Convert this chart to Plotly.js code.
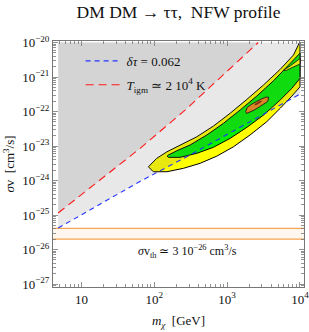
<!DOCTYPE html>
<html>
<head>
<meta charset="utf-8">
<script src="https://cdn.plot.ly/plotly-3.0.1.min.js"></script>
<style>html,body{margin:0;padding:0;background:#fff;}#chart{width:309px;height:332px;}</style>
</head>
<body>
<div id="chart"></div>
<script>
// ---- data (mass in GeV, sigma v in cm^3/s) ----
const massBlue  = [4.8, 13, 64, 310, 1660, 10000];
const sigmaBlue = [4.2e-26, 1.4e-25, 9.5e-25, 5.5e-24, 4.0e-23, 3.2e-22];
const massRed   = [4.8, 64, 265, 2670];
const sigmaRed  = [1.15e-25, 8.6e-24, 1.1e-22, 1.0e-20];
const regionTop = 1.0e-20;
const massEdge  = [4.8, 10000];

const yellowUpM = [83, 108, 149, 226, 384, 649, 1100, 1870, 3160, 5350, 8140, 9840, 10000];
const yellowUpS = [2.5e-24, 4.4e-24, 6.8e-24, 1.07e-23, 1.86e-23, 3.8e-23, 8.9e-23, 2.26e-22, 5.9e-22, 1.67e-21, 4.35e-21, 1e-20, 1e-20];
const yellowLoM = [97, 149, 251, 426, 722, 1220, 2070, 3510, 5350, 7740, 10000];
const yellowLoS = [1.8e-24, 1.8e-24, 2.26e-24, 3.16e-24, 5.1e-24, 9.5e-24, 2.1e-23, 5.1e-23, 1.24e-22, 2.8e-22, 5.2e-22];

const greenUpM = [150, 156, 204, 310, 526, 890, 1510, 2560, 4330, 6610, 9070, 10000];
const greenUpS = [5.1e-24, 5.5e-24, 7.3e-24, 1.07e-23, 2.09e-23, 4.55e-23, 1.11e-22, 2.82e-22, 7.8e-22, 1.91e-21, 3.9e-21, 4.9e-21];
const greenLoM = [156, 226, 384, 649, 1100, 1870, 3160, 5350, 7740, 10000];
const greenLoS = [4.7e-24, 4.7e-24, 6.15e-24, 9.2e-24, 1.67e-23, 3.5e-23, 7.9e-23, 2.16e-22, 4.7e-22, 9.2e-22];

const notchM = [5880, 7330, 10000, 10000, 7820, 6470, 5880];
const notchS = [1.55e-21, 2.09e-21, 3.44e-21, 2.38e-21, 1.89e-21, 1.55e-21, 1.55e-21];

const orangeM = [1800, 1880, 2140, 2500, 2930, 3430, 3720, 3600, 3220, 2750, 2350, 2010, 1850, 1800];
const orangeS = [1.0e-22, 1.3e-22, 1.6e-22, 1.95e-22, 2.3e-22, 2.62e-22, 2.6e-22, 1.95e-22, 1.65e-22, 1.35e-22, 1.1e-22, 9.3e-23, 8.8e-23, 1.0e-22];

const redM = [2400, 2550, 2750, 2950, 2850, 2650, 2480, 2400];
const redS = [1.6e-22, 1.75e-22, 1.92e-22, 2.02e-22, 1.85e-22, 1.70e-22, 1.57e-22, 1.6e-22];

const thermalLow = 2.0e-26, thermalHigh = 4.1e-26;
const bandMass = [3, 20000];

const xTickVals = [10, 100, 1000, 10000];
const xTickText = ['10', '10<sup>2</sup>', '10<sup>3</sup>', '10<sup>4</sup>'];
const yTickVals = [1e-27, 1e-26, 1e-25, 1e-24, 1e-23, 1e-22, 1e-21, 1e-20];
const yTickText = ['10<sup>−27</sup>', '10<sup>−26</sup>', '10<sup>−25</sup>', '10<sup>−24</sup>', '10<sup>−23</sup>', '10<sup>−22</sup>', '10<sup>−21</sup>', '10<sup>−20</sup>'];

function minorVals(lo, hi) {
  const v = [];
  for (let e = lo; e <= hi; e++) for (let d = 2; d <= 9; d++) v.push(d * Math.pow(10, e));
  return v;
}
function poly(upM, upS, loM, loS) {
  const x = upM.concat(loM.slice().reverse()); const y = upS.concat(loS.slice().reverse());
  x.push(upM[0]); y.push(upS[0]);
  return {x, y};
}

const SERIF = 'Liberation Serif, Times New Roman, serif';
const yel = poly(yellowUpM, yellowUpS, yellowLoM, yellowLoS);
const grn = poly(greenUpM, greenUpS, greenLoM, greenLoS);

const traces = [
  {x: [bandMass[0], bandMass[1], bandMass[1], bandMass[0], bandMass[0]],
   y: [thermalLow, thermalLow, thermalHigh, thermalHigh, thermalLow],
   mode: 'lines', fill: 'toself', fillcolor: 'rgba(255,170,90,0.10)',
   line: {color: '#f5a453', width: 1.3}, showlegend: false, hoverinfo: 'skip'},
  {x: yel.x, y: yel.y, mode: 'lines', fill: 'toself', fillcolor: '#ffff00',
   line: {color: '#000', width: 1}, showlegend: false},
  {x: grn.x, y: grn.y, mode: 'lines', fill: 'toself', fillcolor: '#00f000',
   line: {color: '#000', width: 1}, showlegend: false},
  {x: notchM, y: notchS, mode: 'lines', fill: 'toself', fillcolor: '#ffff00',
   line: {color: '#000', width: 0.8}, showlegend: false},
  {x: orangeM, y: orangeS, mode: 'lines', fill: 'toself', fillcolor: '#f08a1a',
   line: {color: '#000', width: 0.8}, showlegend: false},
  {x: redM, y: redS, mode: 'lines', fill: 'toself', fillcolor: '#ff2000',
   line: {color: '#000', width: 0.5}, showlegend: false},
  // light grey: everything above the blue line
  {x: massBlue.concat([massEdge[1], massEdge[0], massBlue[0]]),
   y: sigmaBlue.concat([regionTop, regionTop, sigmaBlue[0]]),
   mode: 'lines', fill: 'toself', fillcolor: 'rgba(100,100,100,0.15)',
   line: {width: 0}, showlegend: false, hoverinfo: 'skip'},
  // darker grey: above the red line
  {x: massRed.concat([massEdge[0], massRed[0]]),
   y: sigmaRed.concat([regionTop, sigmaRed[0]]),
   mode: 'lines', fill: 'toself', fillcolor: 'rgba(100,100,100,0.15)',
   line: {width: 0}, showlegend: false, hoverinfo: 'skip'},
  {x: massBlue, y: sigmaBlue, mode: 'lines', name: '<i>δτ</i> = 0.062', legendgroup: 'a',
   line: {color: '#2233ff', width: 1.1, dash: '5px,4px'}},
  {x: massRed, y: sigmaRed, mode: 'lines', name: '<i>T</i><sub>igm</sub> ≃ 2 10<sup>4</sup> K', legendgroup: 'b',
   line: {color: '#ff1a1a', width: 1.1, dash: '8px,5px'}}
];

const axisCommon = {
  type: 'log', showgrid: false, zeroline: false, showline: true, linecolor: '#777', linewidth: 1,
  mirror: 'allticks', ticks: 'inside', ticklen: 5, tickwidth: 0.8, tickcolor: '#777',
  tickfont: {family: SERIF, size: 13, color: '#111'}, tickmode: 'array', ticklabeloverflow: 'allow'
};

const layout = {
  width: 309, height: 332,
  margin: {l: 53, r: 5, t: 41, b: 45},
  paper_bgcolor: '#fff', plot_bgcolor: '#fff',
  title: {text: 'DM DM → ττ,\u00a0\u00a0NFW profile', font: {family: SERIF, size: 17.5, color: '#111'},
          x: 0.5, xref: 'paper', y: 0.964, yref: 'container', yanchor: 'middle'},
  xaxis: Object.assign({}, axisCommon, {
    range: [0.61, 4.055], tickvals: xTickVals, ticktext: xTickText,
    minor: {tickvals: minorVals(0, 3), ticks: 'inside', ticklen: 3, tickcolor: '#777', tickwidth: 0.8},
    title: {text: '<i>m</i><sub><i>χ</i></sub>\u00a0\u00a0[GeV]', font: {family: SERIF, size: 13, color: '#111'}, standoff: 10}
  }),
  yaxis: Object.assign({}, axisCommon, {
    range: [-27.085, -19.956], tickvals: yTickVals, ticktext: yTickText,
    minor: {tickvals: minorVals(-28, -20), ticks: 'inside', ticklen: 3, tickcolor: '#777', tickwidth: 0.8},
    title: {text: '<i>σ</i>v\u00a0\u00a0[cm<sup>3</sup>/s]', font: {family: SERIF, size: 13, color: '#111'}, standoff: 4}
  }),
  showlegend: true,
  legend: {x: 0.11, y: 0.98, xanchor: 'left', yanchor: 'top', bgcolor: 'rgba(0,0,0,0)', itemwidth: 36,
           font: {family: SERIF, size: 13, color: '#111'}, traceorder: 'grouped', tracegroupgap: 4},
  annotations: [
    {text: '<i>σ</i>v<sub>th</sub> ≃ 3 10<sup>−26</sup> cm<sup>3</sup>/s', xref: 'paper', yref: 'paper',
     x: 0.534, y: 0.10, showarrow: false, font: {family: SERIF, size: 12, color: '#111'}}
  ]
};

Plotly.newPlot('chart', traces, layout, {staticPlot: true, displayModeBar: false});
</script>
</body>
</html>
